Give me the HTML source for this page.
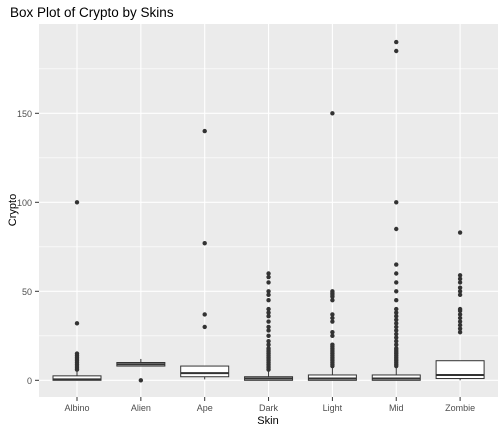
<!DOCTYPE html>
<html><head><meta charset="utf-8"><style>
body{margin:0;background:#fff;}
svg{display:block;font-family:"Liberation Sans",Arial,sans-serif;}
</style></head><body>
<svg id="chart" width="504" height="432">
<text x="10" y="17" font-size="13.5" fill="#000">Box Plot of Crypto by Skins</text>
<rect x="39" y="24" width="459" height="373" fill="#EBEBEB"/>
<g id="grid"></g><g id="marks"></g><g id="axes"></g>
<text x="268" y="424" font-size="11" text-anchor="middle" fill="#000">Skin</text>
<text transform="translate(16,210) rotate(-90)" font-size="11" text-anchor="middle" fill="#000">Crypto</text>
</svg>
<script>
const categories=["Albino","Alien","Ape","Dark","Light","Mid","Zombie"];
const lowerWhisker=[0,8,0.5,0,0,0,0];
const q1=[0,8,2,0,0,0,1];
const median=[0.5,9,4,1,1,1,3];
const q3=[2.5,10,8,2,3,3,11];
const upperWhisker=[5,12,8,5,7,7,11];
const outliers=[
 [6,7,8,9,10,11,12,13,14,15,32,100],
 [0],
 [30,37,77,140],
 [6,7,8,9,10,11,12,13,14,15,16,17,18,20,22,25,28,30,33,36,38,40,45,48,50,55,58,60],
 [8,9,10,11,12,13,14,15,16,17,18,19,20,25,27,33,35,37,45,47,48,49,50,150],
 [8,9,10,11,12,13,14,15,16,17,18,20,22,24,26,28,30,32,34,36,38,40,45,50,55,60,65,85,100,185,190],
 [27,29,31,33,35,37,39,40,48,50,52,55,57,59,83]
];
const yTicks=[0,50,100,150];
const yMinor=[25,75,125,175];
const NS="http://www.w3.org/2000/svg";
const yScale=v=>380.3-v*1.78;
const xScale=i=>77+i*63.85;
const bw=48;
function mk(tag,attrs,parent){const e=document.createElementNS(NS,tag);for(const k in attrs)e.setAttribute(k,attrs[k]);document.getElementById(parent).appendChild(e);return e;}
yMinor.forEach(v=>{const l=mk("line",{x1:39,x2:498,y1:yScale(v),y2:yScale(v),stroke:"#fff","stroke-width":0.6},"grid");

});
yTicks.forEach(v=>{const l=mk("line",{x1:39,x2:498,y1:yScale(v),y2:yScale(v),stroke:"#fff","stroke-width":1.1},"grid");


const t=mk("line",{x1:35,x2:39,y1:yScale(v),y2:yScale(v),stroke:"#333","stroke-width":1},"axes");


const tx=mk("text",{x:32,y:yScale(v)+3.5,"font-size":9,"text-anchor":"end",fill:"#4D4D4D"},"axes");tx.textContent=v;

});
categories.forEach((c,i)=>{const x=xScale(i);
const g=mk("line",{x1:x,x2:x,y1:24,y2:397,stroke:"#fff","stroke-width":1.1},"grid");


const t=mk("line",{x1:x,x2:x,y1:397,y2:401,stroke:"#333","stroke-width":1},"axes");


const tx=mk("text",{x:x,y:411,"font-size":9,"text-anchor":"middle",fill:"#4D4D4D"},"axes");tx.textContent=c;


const w=mk("line",{x1:x,x2:x,y1:yScale(lowerWhisker[i]),y2:yScale(upperWhisker[i]),stroke:"#333","stroke-width":1},"marks");


const r=mk("rect",{x:x-bw/2,y:yScale(q3[i]),width:bw,height:Math.max(yScale(q1[i])-yScale(q3[i]),1),fill:"#fff",stroke:"#333","stroke-width":1},"marks");


const m=mk("line",{x1:x-bw/2,x2:x+bw/2,y1:yScale(median[i]),y2:yScale(median[i]),stroke:"#333","stroke-width":2},"marks");


outliers[i].forEach(v=>{const p=mk("circle",{cx:x,cy:yScale(v),r:2.2,fill:"#333"},"marks");

});
});
</script>
</body></html>
